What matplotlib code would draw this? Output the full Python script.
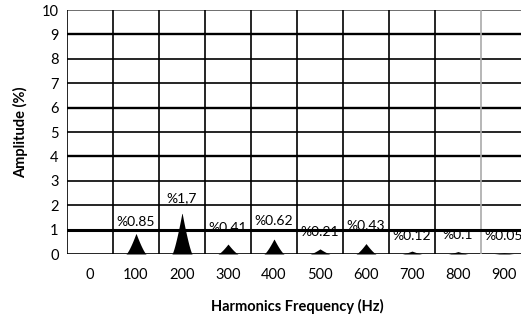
import numpy as np
import matplotlib.pyplot as plt

plt.rcParams['font.family'] = ['Lato', 'DejaVu Sans']

freqs = ['0', '100', '200', '300', '400', '500', '600', '700', '800', '900']
amps = [0.0, 0.85, 1.7, 0.41, 0.62, 0.21, 0.43, 0.12, 0.1, 0.05]
labels = ['', '%0.85', '%1,7', '%0.41', '%0.62', '%0.21', '%0.43', '%0.12', '%0.1', '%0.05']
label_y = [0, 1.3, 2.3, 1.05, 1.35, 0.9, 1.15, 0.75, 0.78, 0.74]

fig = plt.figure(figsize=(5.21, 3.19), dpi=100)
ax = fig.add_axes([67 / 521, 65 / 319, 460 / 521, 244 / 319])

n = len(freqs)
ax.set_xlim(-0.5, n - 0.5)
ax.set_ylim(0, 10)

# grid
for k in range(11):
    lw = 1.7 if k in (4, 6, 9) else 1.2
    col = '#555555' if k == 10 else 'black'
    if k == 1:
        continue
    ax.axhline(k, color=col, lw=lw, zorder=1)
for i in range(n + 1):
    col = '#aaaaaa' if i == n - 1 else 'black'
    ax.axvline(i - 0.5, color=col, lw=1.2, zorder=1)

# peaks
w = 0.22
for i, a in enumerate(amps):
    if a <= 0:
        continue
    dx = np.linspace(-w, w, 60)
    prof = (1 - np.abs(dx) / w) ** 1.3
    ax.fill_between(i + dx, 0, a * prof, color='black', lw=0, zorder=2)
    ax.text(i, label_y[i], labels[i], ha='center', va='center', fontsize=10, zorder=3)

ax.axhline(1, color='black', lw=2.2, zorder=4)

ax.set_xticks(range(n))
ax.set_xticklabels(freqs)
ax.set_yticks(range(11))
ax.tick_params(length=0, labelsize=10.5, pad=6)
ax.tick_params(axis='x', pad=10)
for s in ax.spines.values():
    s.set_visible(False)

ax.set_xlabel('Harmonics Frequency (Hz)', fontsize=10.5, fontweight='bold', labelpad=12)
ax.set_ylabel('Amplitude (%)', fontsize=10.5, fontweight='bold', labelpad=10)

fig.savefig('out.png', dpi=100)
